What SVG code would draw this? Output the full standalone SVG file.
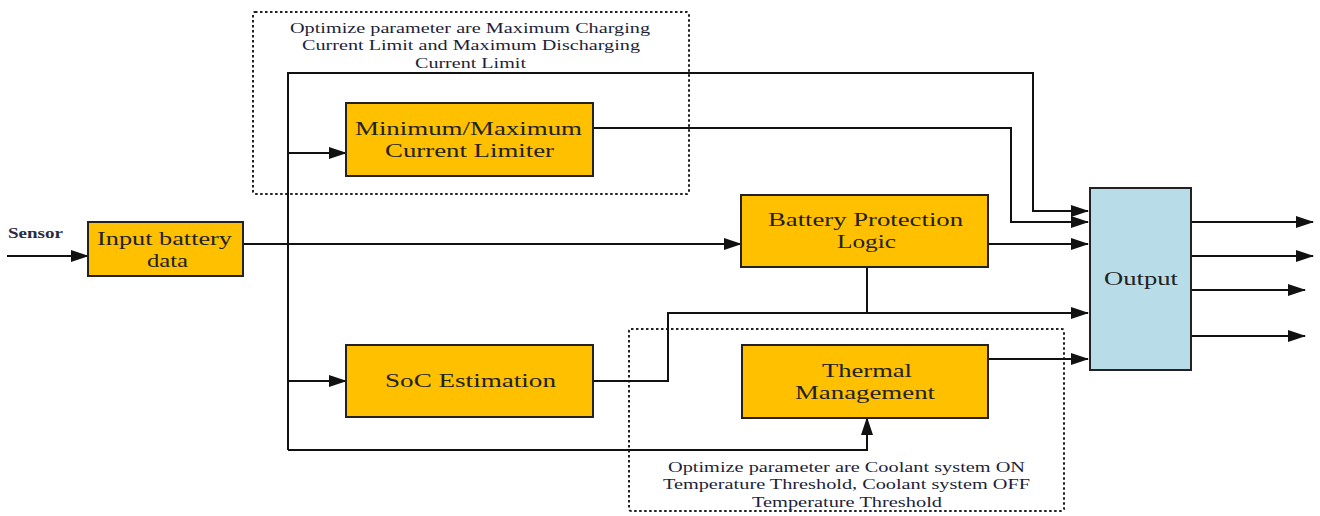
<svg xmlns="http://www.w3.org/2000/svg" width="1320" height="516" viewBox="0 0 1320 516">
<style>
.box{fill:#FFC000;stroke:#222;stroke-width:2}
.out{fill:#B8DDE8;stroke:#222;stroke-width:2}
.dot{fill:none;stroke:#222;stroke-width:2;stroke-dasharray:2.5,2.5}
.ln{fill:none;stroke:#111;stroke-width:2}
.t{font-family:'Liberation Serif','Times New Roman',serif;font-size:18.5px;fill:#222}
.a{font-family:'Liberation Serif','Times New Roman',serif;font-size:14px;fill:#1c1f3a}
</style>
<defs>
<marker id="arr" markerUnits="userSpaceOnUse" markerWidth="18" markerHeight="12" refX="17" refY="6" orient="auto">
<path d="M0,0 L18,6 L0,12 z" fill="#111"/>
</marker>
</defs>
<rect width="1320" height="516" fill="#fff"/>
<g id="annot-top">
<rect class="dot" x="253" y="12" width="436" height="182" rx="2"/>
<text class="a" x="290" y="33" textLength="360" lengthAdjust="spacingAndGlyphs">Optimize parameter are Maximum Charging</text>
<text class="a" x="302" y="50" textLength="338" lengthAdjust="spacingAndGlyphs">Current Limit and Maximum Discharging</text>
<text class="a" x="415" y="68" textLength="111" lengthAdjust="spacingAndGlyphs">Current Limit</text>
</g>
<g id="annot-bottom">
<rect class="dot" x="629" y="329" width="435" height="182" rx="2"/>
<text class="a" x="668" y="472" textLength="357" lengthAdjust="spacingAndGlyphs">Optimize parameter are Coolant system ON</text>
<text class="a" x="663" y="489" textLength="367" lengthAdjust="spacingAndGlyphs">Temperature Threshold, Coolant system OFF</text>
<text class="a" x="752" y="507" textLength="190" lengthAdjust="spacingAndGlyphs">Temperature Threshold</text>
</g>
<g id="connectors">
<path class="ln" d="M7 256 H88" marker-end="url(#arr)"/>
<path class="ln" d="M243 244 H741" marker-end="url(#arr)"/>
<path class="ln" d="M288 450 V73 H1033 V211 H1088" marker-end="url(#arr)"/>
<path class="ln" d="M288 153 H346" marker-end="url(#arr)"/>
<path class="ln" d="M288 381 H346" marker-end="url(#arr)"/>
<path class="ln" d="M288 450 H867 V418" marker-end="url(#arr)"/>
<path class="ln" d="M593 128 H1011 V222 H1088" marker-end="url(#arr)"/>
<path class="ln" d="M988 244 H1088" marker-end="url(#arr)"/>
<path class="ln" d="M867 267 V313"/>
<path class="ln" d="M593 381 H668 V313 H1088" marker-end="url(#arr)"/>
<path class="ln" d="M988 359 H1088" marker-end="url(#arr)"/>
<path class="ln" d="M1191 222 H1313" marker-end="url(#arr)"/>
<path class="ln" d="M1191 256 H1313" marker-end="url(#arr)"/>
<path class="ln" d="M1191 290 H1305" marker-end="url(#arr)"/>
<path class="ln" d="M1191 336 H1305" marker-end="url(#arr)"/>
</g>
<g id="sensor">
<text x="8" y="238" font-family="'Liberation Serif', serif" font-size="14" font-weight="bold" fill="#2a2d45" textLength="55" lengthAdjust="spacingAndGlyphs">Sensor</text>
</g>
<g id="input">
<rect class="box" x="88" y="222" width="155" height="54"/>
<text class="t" x="97" y="245" textLength="135" lengthAdjust="spacingAndGlyphs">Input battery</text>
<text class="t" x="147" y="267" textLength="41" lengthAdjust="spacingAndGlyphs">data</text>
</g>
<g id="limiter">
<rect class="box" x="346" y="103" width="247" height="73"/>
<text class="t" x="355" y="135" textLength="227" lengthAdjust="spacingAndGlyphs">Minimum/Maximum</text>
<text class="t" x="385" y="157" textLength="169" lengthAdjust="spacingAndGlyphs">Current Limiter</text>
</g>
<g id="protection">
<rect class="box" x="741" y="195" width="247" height="72"/>
<text class="t" x="768" y="226" textLength="195" lengthAdjust="spacingAndGlyphs">Battery Protection</text>
<text class="t" x="837" y="248" textLength="59" lengthAdjust="spacingAndGlyphs">Logic</text>
</g>
<g id="soc">
<rect class="box" x="346" y="345" width="247" height="72"/>
<text class="t" x="385" y="387" textLength="171" lengthAdjust="spacingAndGlyphs">SoC Estimation</text>
</g>
<g id="thermal">
<rect class="box" x="742" y="345" width="246" height="73"/>
<text class="t" x="822" y="377" textLength="90" lengthAdjust="spacingAndGlyphs">Thermal</text>
<text class="t" x="795" y="399" textLength="140" lengthAdjust="spacingAndGlyphs">Management</text>
</g>
<g id="output">
<rect class="out" x="1090" y="188" width="101" height="182"/>
<text class="t" x="1104" y="285" textLength="74" lengthAdjust="spacingAndGlyphs">Output</text>
</g>
</svg>
